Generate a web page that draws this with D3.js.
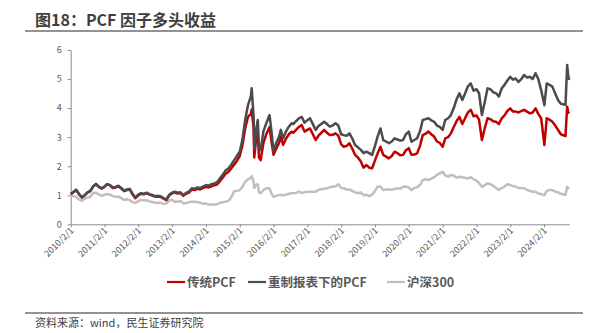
<!DOCTYPE html>
<html>
<head>
<meta charset="utf-8">
<script src="https://cdn.jsdelivr.net/npm/d3@7"></script>
<style>
  html, body { margin: 0; padding: 0; background: #fff; }
  svg { display: block; }
  text { font-family: "Noto Sans CJK SC", "Noto Sans", sans-serif; }
</style>
</head>
<body>
<svg id="chart" width="605" height="333"></svg>
<script>
// Observation dates (month starts unless a day is given)
const dates = [
  "2010-02","2010-03","2010-04","2010-05","2010-06","2010-07","2010-08","2010-09","2010-10","2010-11","2010-12","2011-01",
  "2011-02","2011-03","2011-04","2011-05","2011-06","2011-07","2011-08","2011-09","2011-10","2011-11","2011-12","2012-01",
  "2012-02","2012-03","2012-04","2012-05","2012-06","2012-07","2012-08","2012-09","2012-10","2012-11","2012-12","2013-01",
  "2013-02","2013-03","2013-04","2013-05","2013-06","2013-07","2013-08","2013-09","2013-10","2013-11","2013-12","2014-01",
  "2014-02","2014-03","2014-04","2014-05","2014-06","2014-07","2014-08","2014-09","2014-10","2014-11","2014-12","2015-01",
  "2015-02","2015-03","2015-04","2015-05","2015-06-01","2015-06-10","2015-07-01","2015-07-08","2015-07-25","2015-08-15","2015-08-28","2015-09-15",
  "2015-10-15","2015-11-15","2015-12-20","2016-01-10","2016-02-01","2016-03-01","2016-04-01","2016-04-20","2016-05-15","2016-06-15","2016-07-15","2016-08-15",
  "2016-09","2016-10","2016-11","2016-12",
  "2017-01","2017-02","2017-03","2017-04","2017-05","2017-06","2017-07","2017-08","2017-09","2017-10","2017-11","2017-12",
  "2018-01","2018-02","2018-03","2018-04","2018-05","2018-06","2018-07","2018-08","2018-09","2018-10","2018-11","2018-12",
  "2019-01","2019-02","2019-03","2019-04","2019-05","2019-06","2019-07","2019-08","2019-09","2019-10","2019-11","2019-12",
  "2020-01","2020-02","2020-03","2020-04","2020-05","2020-06","2020-07","2020-08","2020-09","2020-10","2020-11","2020-12",
  "2021-01","2021-02","2021-03","2021-04","2021-05","2021-06","2021-07","2021-08","2021-09","2021-10","2021-11","2021-12",
  "2022-01","2022-02","2022-03","2022-04","2022-05","2022-06","2022-07","2022-08","2022-09","2022-10","2022-11","2022-12",
  "2023-01","2023-02","2023-03","2023-04","2023-05","2023-06","2023-07","2023-08","2023-09","2023-10","2023-11","2023-12",
  "2024-01","2024-02-05","2024-03","2024-04","2024-05","2024-06","2024-07","2024-08","2024-09-20","2024-10-08","2024-10-20","2024-10-31"
];

// 传统PCF
const traditionalPCF = [
  1.04,1.10,1.19,1.04,0.92,0.99,1.09,1.14,1.30,1.39,1.29,1.23,
  1.29,1.38,1.34,1.25,1.27,1.31,1.23,1.14,1.18,1.20,1.03,0.90,
  1.00,1.05,1.03,1.07,1.02,0.99,0.95,0.96,0.94,0.88,0.83,1.00,
  1.07,1.10,1.06,1.08,0.98,1.05,1.09,1.20,1.18,1.22,1.20,1.25,
  1.29,1.27,1.31,1.34,1.37,1.48,1.60,1.74,1.80,1.92,2.05,2.18,
  2.35,2.70,3.30,3.70,3.80,3.95,3.30,2.30,2.85,3.15,2.30,2.21,
  2.80,3.10,3.35,2.85,2.39,2.60,2.80,3.02,2.73,2.95,3.10,3.19,
  3.15,3.25,3.35,3.42,
  3.19,3.25,3.30,3.10,2.90,3.05,3.15,3.25,3.15,3.07,3.08,3.13,
  3.05,2.75,2.67,2.70,2.79,2.60,2.39,2.30,2.16,1.95,2.04,1.95,
  1.93,2.20,2.44,2.67,2.39,2.33,2.27,2.35,2.50,2.45,2.38,2.39,
  2.55,2.62,2.39,2.40,2.44,2.70,3.07,3.12,3.19,3.10,3.02,2.85,
  2.80,2.67,2.96,3.00,3.13,3.35,3.55,3.70,3.45,3.65,3.85,3.94,
  3.72,3.75,3.60,2.90,3.30,3.65,3.62,3.55,3.53,3.45,3.65,3.75,
  3.90,3.99,3.88,3.88,3.85,3.90,3.94,3.88,3.82,3.85,3.99,3.80,
  3.65,2.73,3.65,3.60,3.53,3.40,3.25,3.10,3.04,4.05,3.85,3.82
];

// 重制报表下的PCF
const restatedPCF = [
  1.05,1.10,1.18,1.05,0.93,1.00,1.10,1.15,1.30,1.38,1.30,1.24,
  1.30,1.38,1.35,1.27,1.28,1.33,1.25,1.16,1.20,1.22,1.05,0.92,
  1.02,1.07,1.05,1.09,1.04,1.01,0.97,0.98,0.96,0.90,0.86,1.02,
  1.09,1.12,1.09,1.10,1.01,1.08,1.12,1.24,1.22,1.27,1.25,1.30,
  1.35,1.33,1.38,1.41,1.45,1.58,1.70,1.85,1.92,2.05,2.20,2.35,
  2.50,2.90,3.60,4.10,4.40,4.68,3.70,2.60,3.20,3.59,2.60,2.56,
  3.20,3.48,3.76,3.20,2.50,2.80,3.02,3.25,2.96,3.20,3.36,3.48,
  3.45,3.55,3.65,3.70,
  3.50,3.58,3.65,3.45,3.25,3.38,3.45,3.53,3.45,3.36,3.40,3.48,
  3.40,3.10,3.07,3.05,3.13,2.95,2.73,2.65,2.56,2.45,2.50,2.45,
  2.39,2.70,3.02,3.30,2.90,2.85,2.79,2.85,2.96,2.92,2.88,2.90,
  3.10,3.19,2.84,2.90,2.96,3.20,3.59,3.62,3.65,3.58,3.53,3.40,
  3.35,3.25,3.59,3.65,3.76,4.00,4.30,4.51,4.28,4.50,4.75,4.85,
  4.60,4.65,4.51,3.76,4.20,4.68,4.65,4.55,4.51,4.40,4.68,4.80,
  4.95,5.08,4.98,5.02,4.90,5.00,5.14,5.05,5.08,5.00,5.20,5.00,
  4.62,4.10,4.85,4.80,4.74,4.50,4.28,4.15,4.11,5.48,5.10,4.97
];

// 沪深300
const hs300 = [
  1.00,0.97,0.95,0.86,0.81,0.88,0.92,0.95,1.08,1.09,1.03,0.98,
  1.02,1.04,1.02,0.97,0.95,0.96,0.90,0.84,0.86,0.83,0.76,0.74,
  0.80,0.84,0.82,0.83,0.79,0.77,0.74,0.74,0.74,0.70,0.72,0.82,
  0.84,0.78,0.78,0.80,0.72,0.73,0.76,0.78,0.78,0.77,0.74,0.71,
  0.72,0.68,0.68,0.68,0.69,0.74,0.76,0.78,0.80,0.92,1.13,1.15,
  1.18,1.28,1.47,1.55,1.60,1.66,1.45,1.25,1.35,1.38,1.10,1.07,
  1.18,1.24,1.24,1.05,0.95,0.98,1.01,1.01,1.00,1.02,1.05,1.07,
  1.07,1.08,1.12,1.08,
  1.10,1.12,1.12,1.12,1.12,1.18,1.21,1.22,1.24,1.27,1.30,1.30,
  1.38,1.25,1.24,1.20,1.20,1.15,1.10,1.07,1.10,1.00,1.02,0.97,
  1.02,1.15,1.29,1.30,1.18,1.20,1.20,1.19,1.22,1.24,1.23,1.29,
  1.30,1.27,1.18,1.25,1.28,1.35,1.52,1.55,1.52,1.57,1.62,1.70,
  1.75,1.81,1.68,1.64,1.70,1.68,1.60,1.64,1.62,1.60,1.58,1.62,
  1.55,1.50,1.42,1.29,1.35,1.41,1.38,1.33,1.25,1.18,1.25,1.30,
  1.38,1.35,1.32,1.30,1.25,1.25,1.24,1.18,1.15,1.12,1.12,1.06,
  1.04,1.00,1.15,1.18,1.18,1.12,1.10,1.05,1.01,1.29,1.24,1.24
];

const xTickLabels = ["2010/2/1","2011/2/1","2012/2/1","2013/2/1","2014/2/1","2015/2/1","2016/2/1",
  "2017/2/1","2018/2/1","2019/2/1","2020/2/1","2021/2/1","2022/2/1","2023/2/1","2024/2/1"];
const yTicks = [0, 1, 2, 3, 4, 5, 6];
const seriesNames = ["传统PCF", "重制报表下的PCF", "沪深300"];

const parseDay = d3.timeParse("%Y-%m-%d");
const parseDate = s => parseDay(s.length === 7 ? s + "-01" : s);
const parseTick = d3.timeParse("%Y/%m/%d");
const formatTick = d3.timeFormat("%Y/%-m/%-d");
const time = dates.map(parseDate);

const colors = ["#C00000", "#4B4B4B", "#BFBFBF"];
const axisColor = "#8C8C8C";
const textColor = "#595959";

const svg = d3.select("#chart");

// Heading and rules
svg.append("text")
  .attr("x", 35).attr("y", 26)
  .attr("font-size", 16).attr("font-weight", "bold").attr("fill", "#3F3F3F")
  .text("图18：PCF 因子多头收益");
svg.append("line").attr("x1", 25).attr("x2", 583).attr("y1", 31).attr("y2", 31)
  .attr("stroke", "#6E6E6E").attr("stroke-width", 1.5);
svg.append("line").attr("x1", 25).attr("x2", 583).attr("y1", 313).attr("y2", 313)
  .attr("stroke", "#6E6E6E").attr("stroke-width", 1.5);
svg.append("text")
  .attr("x", 35).attr("y", 327)
  .attr("font-size", 11).attr("fill", "#404040")
  .text("资料来源：wind，民生证券研究院");

// Scales
const x = d3.scaleTime()
  .domain([parseDate("2010-02-01"), parseDate("2024-10-31")])
  .range([70.7, 569.3]);
const y = d3.scaleLinear().domain([0, 6]).range([224.3, 50]);

// Axes
const xAxis = d3.axisBottom(x)
  .tickValues(xTickLabels.map(parseTick))
  .tickFormat(formatTick)
  .tickSize(3).tickSizeOuter(0);
const gx = svg.append("g").attr("transform", `translate(0,${y(0)})`).call(xAxis);
gx.select(".domain").attr("stroke", axisColor);
gx.selectAll(".tick line").attr("stroke", axisColor);
gx.selectAll(".tick text")
  .attr("font-size", 9).attr("fill", textColor)
  .attr("text-anchor", "end")
  .attr("dy", null).attr("y", null)
  .attr("transform", "translate(3,7) rotate(-45)");

const yAxis = d3.axisLeft(y).tickValues(yTicks).tickFormat(d3.format("d")).tickSize(3).tickSizeOuter(0);
const gy = svg.append("g").attr("transform", `translate(${x.range()[0]},0)`).call(yAxis);
gy.select(".domain").attr("stroke", axisColor);
gy.selectAll(".tick line").attr("stroke", axisColor);
gy.selectAll(".tick text").attr("font-size", 9).attr("fill", textColor).attr("x", -9);

// Lines: index first, then the two factor portfolios
const line = vals => d3.line()
  .x((d, i) => x(time[i]))
  .y(d => y(d))(vals);

const plot = svg.append("g");
[[hs300, colors[2]], [traditionalPCF, colors[0]], [restatedPCF, colors[1]]].forEach(([vals, c]) => {
  plot.append("path")
    .attr("d", line(vals))
    .attr("fill", "none")
    .attr("stroke", c)
    .attr("stroke-width", 2.5)
    .attr("stroke-linejoin", "round");
});

// Legend
const legendItems = [
  { name: seriesNames[0], color: colors[0], x0: 167 },
  { name: seriesNames[1], color: colors[1], x0: 248 },
  { name: seriesNames[2], color: colors[2], x0: 387 }
];
const legend = svg.append("g");
legendItems.forEach(item => {
  legend.append("line")
    .attr("x1", item.x0).attr("x2", item.x0 + 18)
    .attr("y1", 282).attr("y2", 282)
    .attr("stroke", item.color).attr("stroke-width", 2.2);
  legend.append("text")
    .attr("x", item.x0 + 20).attr("y", 286.5)
    .attr("font-size", 12.5).attr("font-weight", "bold").attr("fill", textColor)
    .text(item.name);
});
</script>
</body>
</html>
